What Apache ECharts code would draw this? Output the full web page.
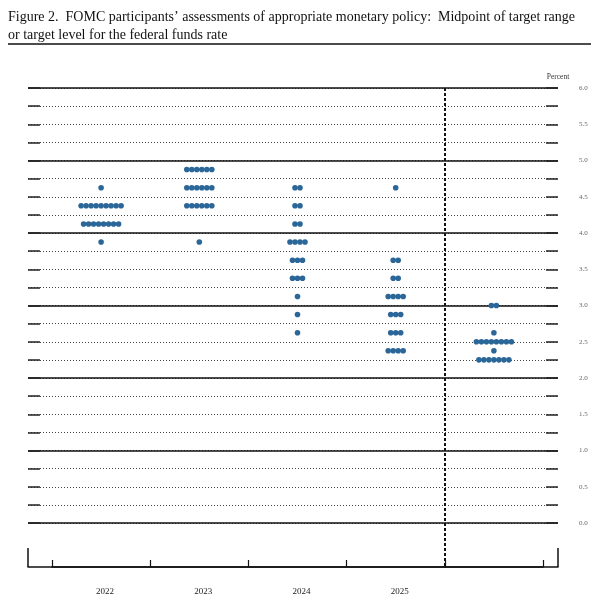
<!DOCTYPE html>
<html>
<head>
<meta charset="utf-8">
<script src="https://cdn.jsdelivr.net/npm/echarts@6/dist/echarts.min.js"></script>
<style>html,body{margin:0;padding:0;background:#fff;}#c{width:599px;height:597px;}</style>
</head>
<body>
<div id="c"></div>
<script>
// Categories (projection horizons); the last one (longer run) has no label in the reference
const categories = ['2022', '2023', '2024', '2025', ''];
// Each entry: [midpoint rate (%), number of participants]
const dots2022 = [[4.625, 1], [4.375, 9], [4.125, 8], [3.875, 1]];
const dots2023 = [[4.875, 6], [4.625, 6], [4.375, 6], [3.875, 1]];
const dots2024 = [[4.625, 2], [4.375, 2], [4.125, 2], [3.875, 4], [3.625, 3], [3.375, 3], [3.125, 1], [2.875, 1], [2.625, 1]];
const dots2025 = [[4.625, 1], [3.625, 2], [3.375, 2], [3.125, 4], [2.875, 3], [2.625, 3], [2.375, 4]];
const dotsLonger = [[3.0, 2], [2.625, 1], [2.5, 8], [2.375, 1], [2.25, 7]];
const yMin = 0, yMax = 6;

const allDots = [dots2022, dots2023, dots2024, dots2025, dotsLonger];
const dotData = [];
allDots.forEach((rows, ci) => rows.forEach(r => dotData.push([ci, r[0], r[1]])));

const serif = 'Liberation Serif';
const chart = echarts.init(document.getElementById('c'));
chart.setOption({
  backgroundColor: '#fff',
  animation: false,
  title: {
    text: 'Figure 2.  FOMC participants’ assessments of appropriate monetary policy:  Midpoint of target range\nor target level for the federal funds rate',
    left: 8, top: 8, padding: 0,
    textStyle: { fontFamily: serif, fontSize: 14, fontWeight: 'normal', color: '#111', lineHeight: 18 }
  },
  graphic: [{
    type: 'line', shape: { x1: 8, y1: 44, x2: 591, y2: 44 },
    style: { stroke: '#111', lineWidth: 1.5 }
  }],
  grid: [
    { left: 28, right: 41, top: 88, bottom: 74 },
    { left: 52, right: 56, top: 88, bottom: 30 }
  ],
  xAxis: [
    {
      gridIndex: 0, type: 'value', min: 0, max: 1, interval: 1, offset: 44,
      axisLine: { show: true, onZero: false, lineStyle: { color: '#111', width: 1.5 } },
      axisTick: { show: true, inside: true, length: 19, lineStyle: { color: '#111', width: 1.5 } },
      axisLabel: { show: false }, splitLine: { show: false }
    },
    {
      gridIndex: 1, type: 'category', data: categories, boundaryGap: true, position: 'bottom',
      axisLine: { show: true, onZero: false, lineStyle: { color: '#111', width: 1.5 } },
      axisTick: { show: true, inside: true, length: 7, lineStyle: { color: '#111', width: 1.2 } },
      axisLabel: { fontFamily: serif, fontSize: 9, color: '#222', margin: 20, padding: [0, 0, 0, 8] },
      splitLine: { show: false }
    },
    {
      // separator between the yearly projections and the longer run
      gridIndex: 1, type: 'value', min: -0.5, max: 4.5, interval: 4, position: 'bottom',
      axisLine: { show: false, onZero: false }, axisTick: { show: false }, axisLabel: { show: false },
      splitLine: { show: true, showMinLine: false, showMaxLine: false,
        lineStyle: { color: '#111', width: 2, type: [3, 2] } }
    }
  ],
  yAxis: [
    {
      gridIndex: 0, type: 'value', position: 'left', min: yMin, max: yMax, interval: 0.25,
      axisLine: { show: false },
      axisTick: { show: true, inside: true, length: 12, lineStyle: { color: '#222', width: 1.5 } },
      axisLabel: { show: false },
      splitLine: { show: true, lineStyle: { color: '#444', width: 1, type: [1, 2] } }
    },
    {
      gridIndex: 0, type: 'value', position: 'right', min: yMin, max: yMax, interval: 0.25,
      axisLine: { show: false },
      axisTick: { show: true, inside: true, length: 12, lineStyle: { color: '#222', width: 1.5 } },
      axisLabel: { show: true, margin: 21, fontFamily: serif, fontSize: 7, color: '#666',
        formatter: function (v) { return Math.abs(v * 2 - Math.round(v * 2)) < 1e-6 ? v.toFixed(1) : ''; } },
      name: 'Percent', nameLocation: 'end', nameGap: 7,
      nameTextStyle: { fontFamily: serif, fontSize: 7.5, color: '#333', align: 'center' },
      splitLine: { show: false }
    },
    {
      gridIndex: 0, type: 'value', position: 'left', min: yMin, max: yMax, interval: 1,
      axisLine: { show: false }, axisTick: { show: false }, axisLabel: { show: false },
      splitLine: { show: true, lineStyle: { color: '#111', width: 1.5, type: 'solid' } }
    },
    {
      gridIndex: 1, type: 'value', min: -0.6069, max: yMax, show: false
    }
  ],
  series: [{
    type: 'custom',
    xAxisIndex: 1, yAxisIndex: 3,
    encode: { x: 0, y: 1 },
    data: dotData,
    renderItem: function (params, api) {
      const c = api.coord([api.value(0), api.value(1)]);
      const n = api.value(2);
      const children = [];
      for (let i = 0; i < n; i++) {
        children.push({
          type: 'circle',
          shape: { cx: c[0] + (i - (n - 1) / 2) * 5.0, cy: c[1], r: 2.8 },
          style: { fill: '#2b6698' }
        });
      }
      return { type: 'group', children: children };
    }
  }]
});
</script>
</body>
</html>
